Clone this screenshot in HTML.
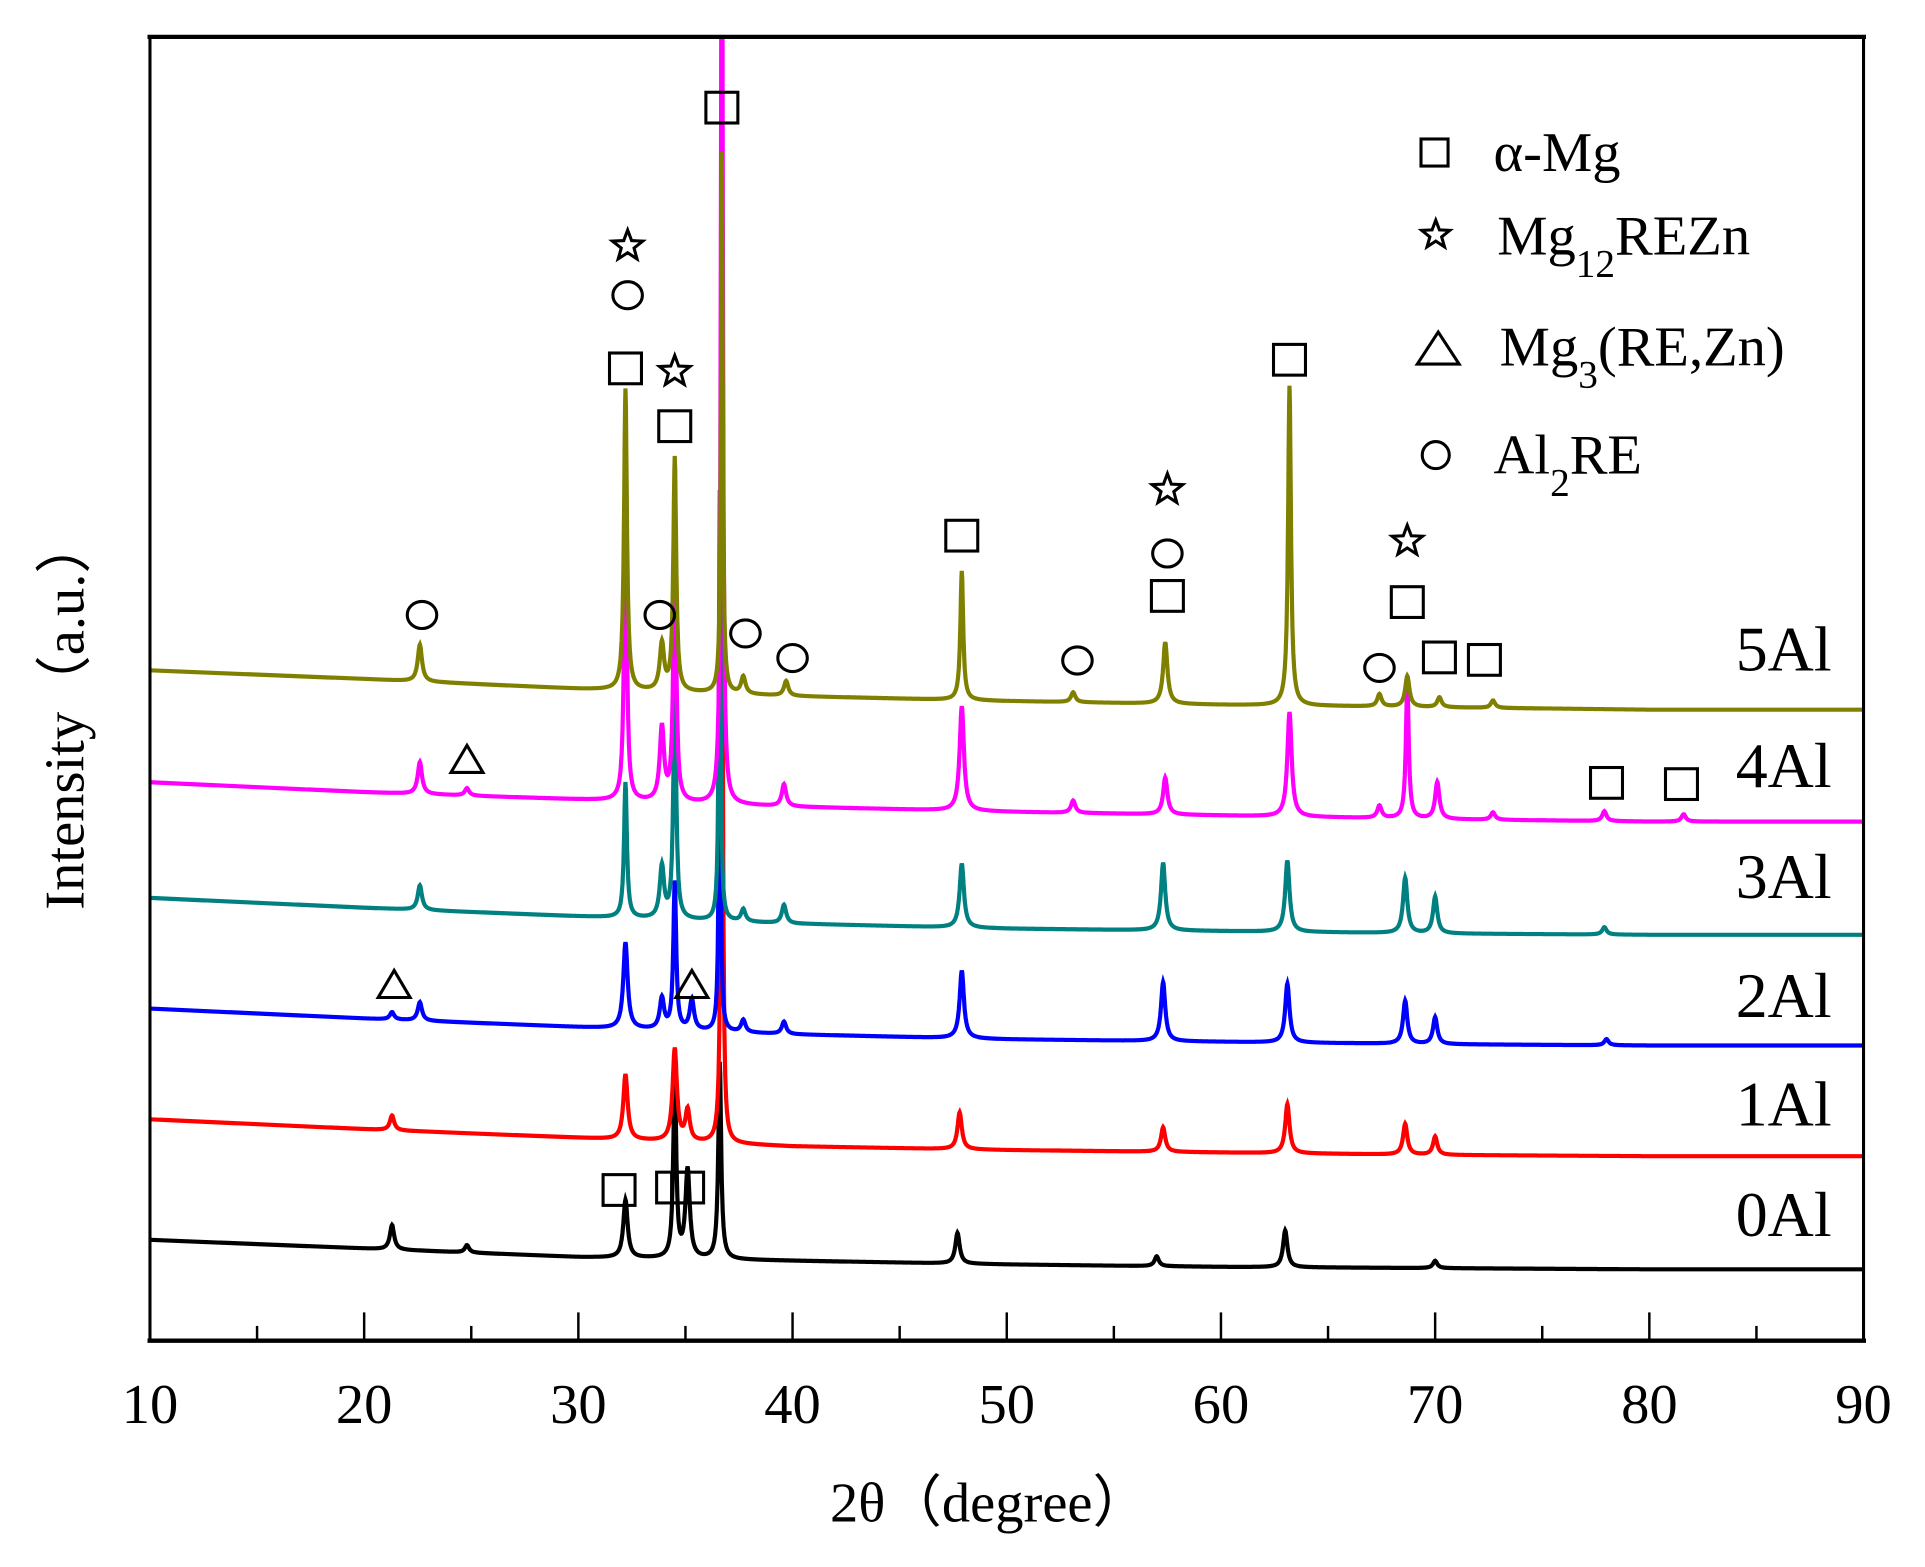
<!DOCTYPE html>
<html><head><meta charset="utf-8"><style>
html,body{margin:0;padding:0;background:#fff;}
svg{display:block;font-family:"Liberation Serif",serif;}
</style></head>
<body>
<svg id="chart" width="1925" height="1567" viewBox="0 0 1566 1274" preserveAspectRatio="none" xmlns="http://www.w3.org/2000/svg">
<rect x="0" y="0" width="1566" height="1274" fill="#fff"/>
<defs><clipPath id="plotclip"><rect x="122" y="30" width="1394" height="1060"/></clipPath></defs>
<g id="series" clip-path="url(#plotclip)"></g>
<g id="markers"></g>
<g id="axes"></g>
<text x="805" y="1237" font-size="46" text-anchor="middle">2θ（degree）</text>
<text transform="translate(68,580) rotate(-90)" font-size="46" text-anchor="middle">Intensity（a.u.）</text>
<g>
<text x="1215" y="139" font-size="46">α-Mg</text>
<text x="1218" y="207" font-size="46">Mg<tspan font-size="32" dy="18">12</tspan><tspan dy="-18">REZn</tspan></text>
<text x="1220" y="297" font-size="46">Mg<tspan font-size="32" dy="18">3</tspan><tspan dy="-18">(RE,Zn)</tspan></text>
<text x="1215" y="385" font-size="46">Al<tspan font-size="32" dy="18">2</tspan><tspan dy="-18">RE</tspan></text>
</g>
</svg>
<script>
const xKnots=[10,20,30,40,50,60,70,80,90];
const seriesNames=["0Al","1Al","2Al","3Al","4Al","5Al"];
const seriesColors=["#000000","#ff0000","#0000ff","#008080","#ff00ff","#808000"];
// baseline levels (intensity units above the x axis) at xKnots
const base0=[82,75,68,65,62,60,59,58,58];
const base1=[180,172,165,158,155,153,151,150,150];
const base2=[270,262,255,249,245,243,241,240,240];
const base3=[360,352,345,339,335,333,331,330,330];
const base4=[454,446,440,434,430,427,424,422,422];
const base5=[545,538,530,524,520,517,515,513,513];
// peak positions (deg) and heights
const pk0x=[21.3,24.8,32.2,34.5,35.1,36.6,47.7,57.0,63.0,70.0];
const pk0h=[20,6,47,152,72,160,25,8,30,6];
const pk1x=[21.3,32.2,34.5,35.1,36.7,47.8,57.3,63.1,68.6,70.0];
const pk1h=[12,53,75,25,620,30,20,40,25,15];
const pk2x=[21.3,22.6,32.2,33.9,34.5,35.3,36.6,37.7,39.6,47.9,57.3,63.1,68.6,70.0,78.0];
const pk2h=[6,15,70,25,120,25,310,10,10,55,48,48,35,22,5];
const pk3x=[22.6,32.2,33.9,34.5,36.6,37.7,39.6,47.9,57.3,63.1,68.6,70.0,77.9];
const pk3h=[20,110,42,190,350,10,15,52,55,58,45,30,6];
const pk4x=[22.6,24.8,32.2,33.9,34.5,36.7,39.6,47.9,53.1,57.4,63.2,67.4,68.7,70.1,72.7,77.9,81.6];
const pk4h=[26,6,230,60,210,900,18,85,10,30,85,10,112,30,6,8,6];
const pk5x=[22.6,32.2,33.9,34.5,36.7,37.7,39.7,47.9,53.1,57.4,63.2,67.4,68.7,70.2,72.7];
const pk5h=[30,245,38,190,440,14,12,105,8,50,260,10,25,8,6];
const baseArr=[base0,base1,base2,base3,base4,base5];
const pkX=[pk0x,pk1x,pk2x,pk3x,pk4x,pk5x];
const pkH=[pk0h,pk1h,pk2h,pk3h,pk4h,pk5h];
// phase markers (deg, intensity level)
const sqX=[36.7,32.2,34.5,47.9,57.5,63.2,68.7,70.2,72.3,78.0,81.5,31.9,34.4,35.1];
const sqY=[1002,790,743,654,605,797,600,555,553,453,452,122,124,124];
const stX=[32.3,34.5,57.5,68.7];
const stY=[890,788,692,650];
const ciX=[32.3,22.7,33.8,37.8,40.0,53.3,57.5,67.4];
const ciY=[850,590,590,575,555,553,640,547];
const trX=[24.8,21.4,35.3];
const trY=[473,290,290];
const xTicks=[10,20,30,40,50,60,70,80,90];
const labelY=[1005,915,827,730,640,545];

const NS="http://www.w3.org/2000/svg";
const X0=122,X1=1516,Y0=1090;
function xs(d){return X0+(d-10)*(X1-X0)/80;}
function ys(v){return Y0-v;}
function baseAt(b,d){const i=Math.min(7,Math.max(0,Math.floor((d-10)/10)));const t=(d-xKnots[i])/10;return b[i]+(b[i+1]-b[i])*t;}
const sg=document.getElementById('series');
const chart=document.getElementById('chart');
for(let s=0;s<6;s++){
  let pts=[];
  for(let d=10;d<=90.0001;d+=0.02){
    let v=baseAt(baseArr[s],d);
    for(let k=0;k<pkX[s].length;k++){
      const h=pkH[s][k];
      const w=h>300?0.05:(h>100?0.08:0.12);
      const u=(d-pkX[s][k])/w;
      v+=h/(1+u*u);
    }
    pts.push(xs(d).toFixed(1)+","+ys(v).toFixed(1));
  }
  const pl=document.createElementNS(NS,'polyline');
  pl.setAttribute('points',pts.join(' '));
  pl.setAttribute('fill','none');
  pl.setAttribute('stroke',seriesColors[s]);
  pl.setAttribute('stroke-width','3.4');
  
  
  sg.appendChild(pl);
  const t=document.createElementNS(NS,'text');
  t.setAttribute('x','1490');t.setAttribute('y',labelY[s]);
  t.setAttribute('font-size','52');t.setAttribute('text-anchor','end');
  t.textContent=seriesNames[s];
  
  
  chart.appendChild(t);
}
const mg=document.getElementById('markers');
function mk(tag,attrs,name){const e=document.createElementNS(NS,tag);for(const k in attrs)e.setAttribute(k,attrs[k]);e.setAttribute('fill','none');e.setAttribute('stroke','#000');e.setAttribute('stroke-width','2.5');


mg.appendChild(e);}
function star(cx,cy,r,name){let p=[];for(let i=0;i<10;i++){const a=-Math.PI/2+i*Math.PI/5;const rr=i%2?r*0.42:r;p.push((cx+rr*Math.cos(a)).toFixed(1)+","+(cy+rr*Math.sin(a)).toFixed(1));}mk('polygon',{points:p.join(' ')},name);}
for(let i=0;i<sqX.length;i++){mk('rect',{x:xs(sqX[i])-13,y:ys(sqY[i])-13,width:26,height:25},'alpha-mg-marker');}
for(let i=0;i<stX.length;i++){star(xs(stX[i]),ys(stY[i]),13,'mg12rezn-marker');}
for(let i=0;i<ciX.length;i++){mk('ellipse',{cx:xs(ciX[i]),cy:ys(ciY[i]),rx:12,ry:11},'al2re-marker');}
for(let i=0;i<trX.length;i++){const cx=xs(trX[i]),cy=ys(trY[i]);mk('polygon',{points:(cx-13)+","+(cy+11)+" "+(cx+13)+","+(cy+11)+" "+cx+","+(cy-11)},'mg3rezn-marker');}
// legend symbols
mk('rect',{x:1156,y:113,width:22,height:22},'legend-square');
star(1168,191,12,'legend-star');
mk('polygon',{points:"1153,296 1187,296 1170,270"},'legend-triangle');
mk('circle',{cx:1168,cy:370,r:11},'legend-circle');
// axes
const ag=document.getElementById('axes');
function ln(x1,y1,x2,y2,w,name){const e=document.createElementNS(NS,'line');e.setAttribute('x1',x1);e.setAttribute('y1',y1);e.setAttribute('x2',x2);e.setAttribute('y2',y2);e.setAttribute('stroke','#000');e.setAttribute('stroke-width',w);


ag.appendChild(e);}
ln(120,30,1518,30,3.5,'top-border');
ln(120,1090,1518,1090,3.5,'x-axis-line');
ln(122,30,122,1090,2.5,'y-axis-line');
ln(1516,30,1516,1090,2.5,'right-border');
for(let d=15;d<90;d+=10){ln(xs(d),1090,xs(d),1078,2,'x-minor-tick');}
for(let i=0;i<xTicks.length;i++){
  ln(xs(xTicks[i]),1090,xs(xTicks[i]),1067,2,'x-major-tick');
  const t=document.createElementNS(NS,'text');
  t.setAttribute('x',xs(xTicks[i]));t.setAttribute('y','1157');
  t.setAttribute('font-size','46');t.setAttribute('text-anchor','middle');
  t.textContent=xTicks[i];
  
  
  ag.appendChild(t);
}
</script>
</body></html>
